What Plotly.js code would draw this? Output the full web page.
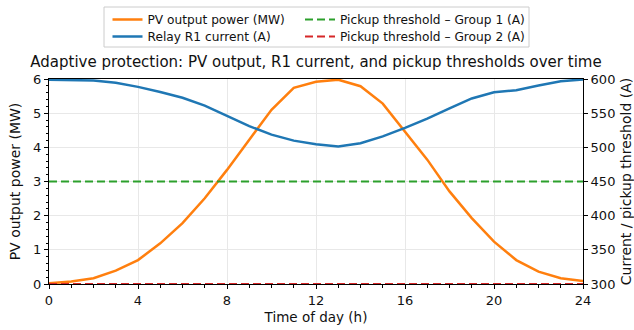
<!DOCTYPE html>
<html>
<head>
<meta charset="utf-8">
<script src="https://cdn.plot.ly/plotly-3.0.1.min.js"></script>
<style>
html,body{margin:0;padding:0;background:#fff;}
#chart{width:634px;height:330px;}
</style>
</head>
<body>
<div id="chart"></div>
<script>
// Time of day (h)
const hours = [0,1,2,3,4,5,6,7,8,9,10,11,12,13,14,15,16,17,18,19,20,21,22,23,24];
// PV output power (MW)
const pvPower = [0.02,0.07,0.17,0.39,0.70,1.19,1.78,2.51,3.34,4.22,5.10,5.74,5.92,5.98,5.79,5.28,4.45,3.64,2.71,1.93,1.24,0.70,0.36,0.17,0.09];
// Relay R1 current (A)
const relayCurrent = [599,598.8,597.8,594.4,588.5,581,572.5,561,546.5,531,518.6,509.8,504.6,501.4,506,516,528.5,542,557,571.5,580.6,583.6,590.4,596.8,599.3];
// Pickup thresholds (A)
const pickupGroup1 = 450;
const pickupGroup2 = 300;

const seriesNames = ["PV output power (MW)", "Relay R1 current (A)", "Pickup threshold – Group 1 (A)", "Pickup threshold – Group 2 (A)"];
const xTickLabels = ["0","4","8","12","16","20","24"];

const FONT = "DejaVu Sans, sans-serif";

const traces = [
  {x: hours, y: pvPower, yaxis: "y", name: seriesNames[0], mode: "lines",
   line: {color: "#ff7f0e", width: 2.5}, legend: "legend"},
  {x: hours, y: relayCurrent, yaxis: "y2", name: seriesNames[1], mode: "lines",
   line: {color: "#1f77b4", width: 2.5}, legend: "legend2"},
  {x: hours, y: hours.map(() => pickupGroup1), yaxis: "y2", name: seriesNames[2], mode: "lines",
   line: {color: "#2ca02c", width: 2, dash: "8px,4px"}, legend: "legend3"},
  {x: hours, y: hours.map(() => pickupGroup2), yaxis: "y2", name: seriesNames[3], mode: "lines",
   line: {color: "#d62728", width: 2, dash: "8px,4px"}, legend: "legend4"}
];

const axisCommon = {
  showline: true, linecolor: "#000", linewidth: 1,
  ticks: "outside", ticklen: 4, tickwidth: 1, tickcolor: "#000",
  tickfont: {family: FONT, size: 13, color: "#111"},
  zeroline: false,
};

// plot area in pixels: x 49..583, y 79..284
function mkLegend(px, py, size) {
  return {x: (px-49)/534, xref: "paper", xanchor: "left",
          y: (284-py)/205, yref: "paper", yanchor: "middle",
          bgcolor: "rgba(0,0,0,0)", borderwidth: 0, orientation: "v",
          font: {family: FONT, size: size, color: "#111"}, itemwidth: 30};
}

const layout = {
  width: 634, height: 330,
  margin: {l: 49, r: 51, t: 79, b: 46, pad: 0, autoexpand: false},
  paper_bgcolor: "#fff", plot_bgcolor: "#fff",
  font: {family: FONT, color: "#111"},
  title: {text: "Adaptive protection: PV output, R1 current, and pickup thresholds over time",
          font: {family: FONT, size: 15, color: "#111"},
          x: 0.5, xanchor: "center", xref: "paper", y: 1 - 62/330, yanchor: "middle", yref: "container"},
  xaxis: Object.assign({}, axisCommon, {
    range: [0, 24], tickvals: xTickLabels.map(Number), ticktext: xTickLabels,
    mirror: true, showgrid: true, gridcolor: "#e8e8e8", gridwidth: 1,
    minor: {dtick: 1, ticks: "outside", ticklen: 2.5, tickcolor: "#000", showgrid: false},
    title: {text: "Time of day (h)", font: {family: FONT, size: 13.5, color: "#111"}, standoff: 5}
  }),
  yaxis: Object.assign({}, axisCommon, {
    range: [0, 6], dtick: 1, tick0: 0,
    showgrid: true, gridcolor: "#e8e8e8", gridwidth: 1,
    minor: {dtick: 0.2, ticks: "outside", ticklen: 2.5, tickcolor: "#000", showgrid: false},
    title: {text: "PV output power (MW)", font: {family: FONT, size: 14, color: "#111"}, standoff: 9}
  }),
  yaxis2: Object.assign({}, axisCommon, {
    overlaying: "y", side: "right", range: [300, 600], dtick: 50, tick0: 300,
    showgrid: false,
    title: {text: "Current / pickup threshold (A)", font: {family: FONT, size: 14, color: "#111"}, standoff: 10}
  }),
  showlegend: true,
  legend: mkLegend(107.5, 19.5, 12.2),
  legend2: mkLegend(107.5, 36.5, 12.2),
  legend3: mkLegend(300, 19.5, 12.2),
  legend4: mkLegend(300, 36.5, 12.2),
  shapes: [{type: "rect", xref: "paper", yref: "paper",
            x0: (104-49)/534, x1: (529-49)/534, y0: (284-47)/205, y1: (284-7)/205,
            line: {color: "#cccccc", width: 1}, fillcolor: "rgba(255,255,255,0.8)", layer: "below"}]
};

Plotly.newPlot("chart", traces, layout, {displayModeBar: false, staticPlot: true});
</script>
</body>
</html>
